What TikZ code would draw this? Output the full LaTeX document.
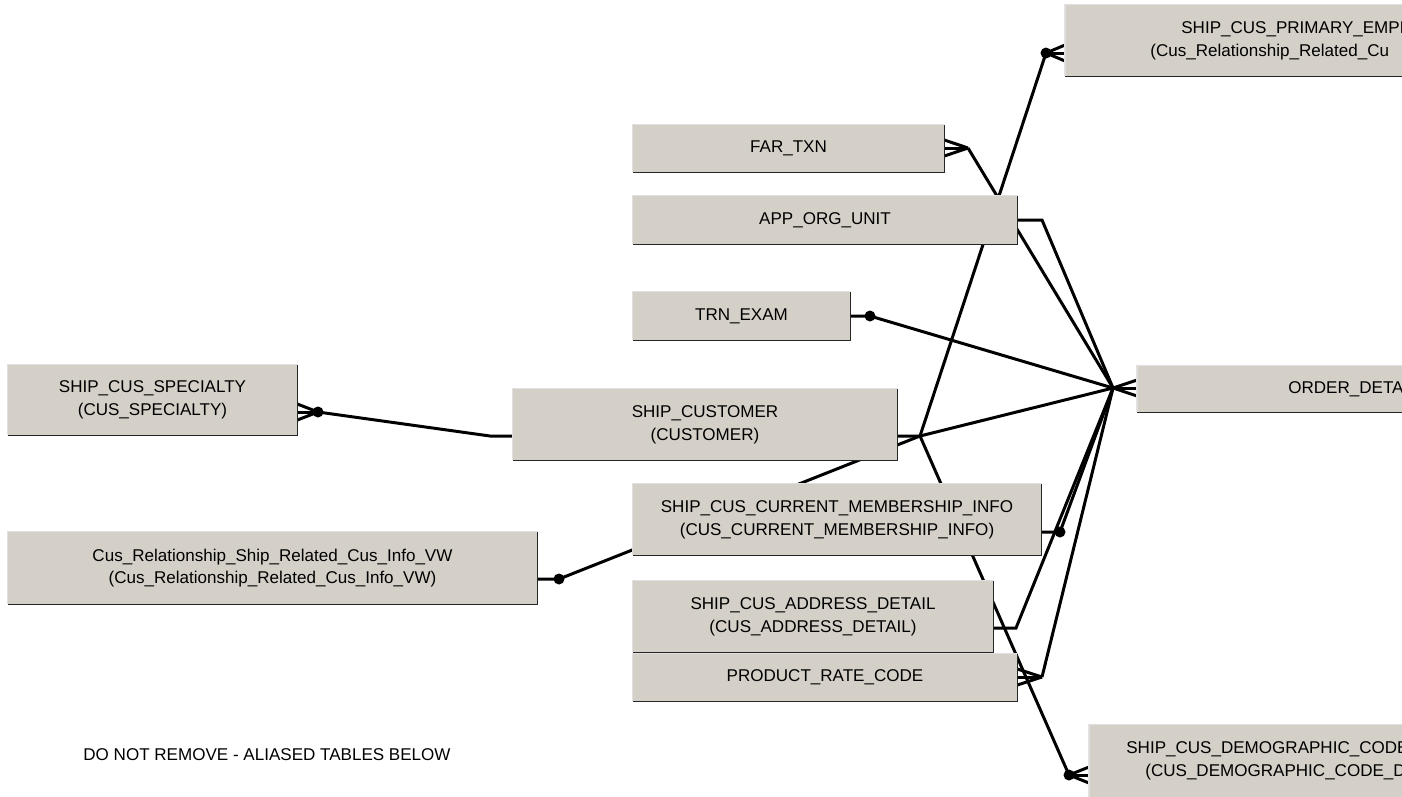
\documentclass[tikz,border=0pt]{standalone}
\usepackage{fontspec}
\setmainfont{Liberation Sans}
\usepackage{tikz}
\usetikzlibrary{calc}
\usetikzlibrary{backgrounds}
\definecolor{tblgray}{HTML}{D4D0C8}
\newcommand{\tblfont}{\fontsize{9.7}{13}\selectfont}

\begin{document}
\begin{tikzpicture}[x=0.02cm,y=-0.02cm,
  tbl/.style={rectangle,fill=tblgray,inner sep=0pt,align=center,font=\tblfont},
  cut/.style={tbl,anchor=west,align=left,text width=8cm},
  rel/.style={line width=1.7pt}]
  \useasboundingbox (0,0) rectangle (1402,796);
  \clip (0,0) rectangle (1402,796);
  \node [tbl,minimum width=6.22cm,minimum height=0.94cm] (far) at (788.5,148.5) {FAR\_TXN};
  \node [tbl,minimum width=7.68cm,minimum height=0.96cm] (app) at (825,220) {APP\_ORG\_UNIT};
  \node [tbl,minimum width=4.34cm,minimum height=0.96cm] (trn) at (741.5,316) {TRN\_EXAM};
  \node [tbl,minimum width=5.78cm,minimum height=1.4cm] (spec) at (152.5,400) {SHIP\_CUS\_SPECIALTY\\(CUS\_SPECIALTY)};
  \node [tbl,minimum width=7.68cm,minimum height=1.42cm] (cust) at (705,424.5) {SHIP\_CUSTOMER\\(CUSTOMER)};
  \node [tbl,minimum width=8.16cm,minimum height=1.42cm] (memb) at (837,519.5) {SHIP\_CUS\_CURRENT\_MEMBERSHIP\_INFO\\(CUS\_CURRENT\_MEMBERSHIP\_INFO)};
  \node [tbl,minimum width=10.58cm,minimum height=1.44cm] (cusrel) at (272.5,568) {Cus\_Relationship\_Ship\_Related\_Cus\_Info\_VW\\(Cus\_Relationship\_Related\_Cus\_Info\_VW)};
  \node [tbl,minimum width=7.2cm,minimum height=1.42cm] (addr) at (813,616.5) {SHIP\_CUS\_ADDRESS\_DETAIL\\(CUS\_ADDRESS\_DETAIL)};
  \node [tbl,minimum width=7.68cm,minimum height=0.94cm] (prc) at (825,677.5) {PRODUCT\_RATE\_CODE};
  \node [cut,inner xsep=1.7cm,minimum height=1.42cm] (primary) at (1065,40.5) {\hspace*{0.62cm}SHIP\_CUS\_PRIMARY\_EMPL\\(Cus\_Relationship\_Related\_Cu};
  \node [cut,inner xsep=3.02cm,minimum height=0.92cm] (order) at (1137,389) {ORDER\_DETA};
  \node [cut,inner xsep=0.74cm,minimum height=1.44cm] (demo) at (1089,761) {SHIP\_CUS\_DEMOGRAPHIC\_CODE\\\hspace*{0.38cm}(CUS\_DEMOGRAPHIC\_CODE\_D};
  \node [font=\tblfont] (note) at (267,755) {DO NOT REMOVE - ALIASED TABLES BELOW};
  \foreach \t in {far,app,trn,spec,cust,memb,cusrel,addr,prc,primary,order,demo} {
    \draw [black!12,line width=0.8pt] (\t.south west) -- (\t.north west) -- (\t.north east);
    \draw [black!85,line width=0.9pt] (\t.north east) -- (\t.south east) -- (\t.south west);
  }
  \coordinate (hub) at (920,436);
  \coordinate (pe-dot) at (1046,53);
  \coordinate (far-ft) at (968,148);
  \coordinate (od-ft) at (1113,388);
  \coordinate (app-st) at (1042,220);
  \coordinate (trn-dot) at (870,316);
  \coordinate (mb-dot) at (1060,532);
  \coordinate (ad-st) at (1016,628);
  \coordinate (prc-ft) at (1042,677);
  \coordinate (dm-dot) at (1069,775);
  \coordinate (sp-dot) at (318,412);
  \coordinate (sp-st) at (490,436);
  \coordinate (cr-dot) at (559,579);
  \begin{pgfonlayer}{background}
    \draw [rel] (cust.east |- hub) -- (hub) -- (pe-dot);
    \draw [rel] (hub) -- (od-ft);
    \draw [rel] (hub) -- (dm-dot);
    \draw [rel] (cusrel.east |- cr-dot) -- (cr-dot) -- (hub);
    \draw [rel] (app.east |- app-st) -- (app-st) -- (od-ft);
    \draw [rel] (far-ft) -- (od-ft);
    \draw [rel] (trn.east |- trn-dot) -- (trn-dot) -- (od-ft);
    \draw [rel] (memb.east |- mb-dot) -- (mb-dot) -- (od-ft);
    \draw [rel] (addr.east |- ad-st) -- (ad-st) -- (od-ft);
    \draw [rel] (prc-ft) -- (od-ft);
    \draw [rel] (sp-dot) -- (sp-st) -- (cust.west |- sp-st);
    \foreach \a/\b in {far-ft/far.east,od-ft/order.west,prc-ft/prc.east,pe-dot/primary.west,dm-dot/demo.west,sp-dot/spec.east}
      \foreach \d in {-8,0,8}
        \draw [rel] (\a) -- ($(\b |- \a)+(0,\d)$);
    \foreach \p in {pe-dot,dm-dot,sp-dot,trn-dot,mb-dot,cr-dot}
      \fill (\p) circle [radius=0.11cm];
  \end{pgfonlayer}
\end{tikzpicture}
\end{document}
